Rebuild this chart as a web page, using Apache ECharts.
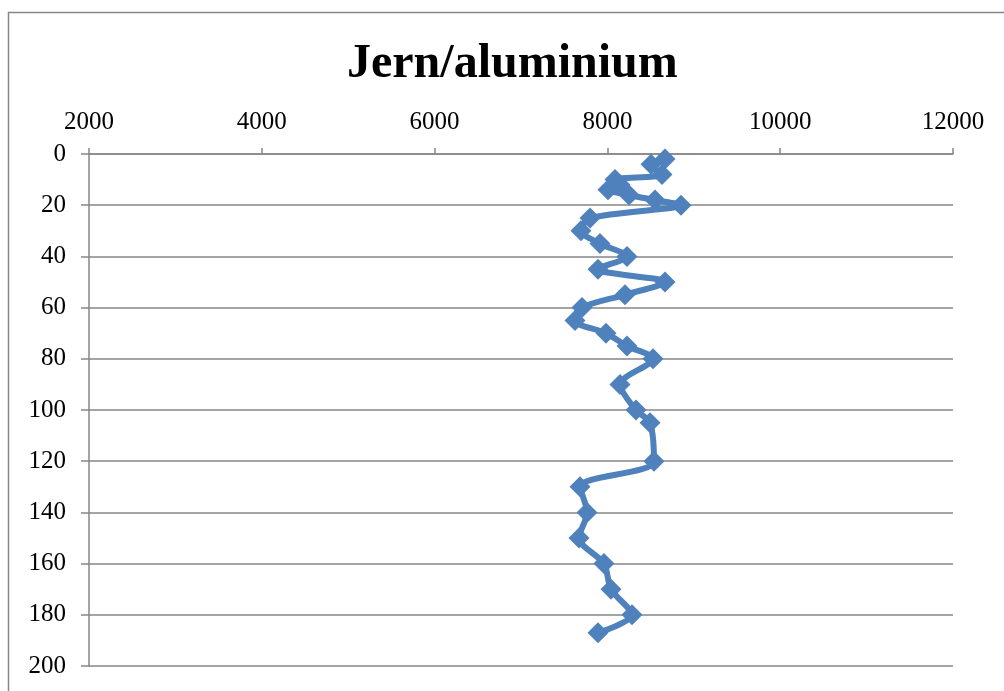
<!DOCTYPE html>
<html>
<head>
<meta charset="utf-8">
<script src="https://cdn.jsdelivr.net/npm/echarts@6/dist/echarts.min.js"></script>
<style>
html,body{margin:0;padding:0;background:#fff;}
#chart{width:1004px;height:691px;}
</style>
</head>
<body>
<div id="chart"></div>
<script>
const titleText = 'Jern/aluminium';
const depths = [2, 4, 8, 10, 12, 14, 16, 18, 20, 25, 30, 35, 40, 45, 50, 55, 60, 65, 70, 75, 80, 90, 100, 105, 120, 130, 140, 150, 160, 170, 180, 187];
const ratios = [8667, 8505, 8632, 8088, 8146, 8007, 8250, 8551, 8852, 7799, 7694, 7914, 8227, 7891, 8667, 8204, 7706, 7625, 7984, 8227, 8528, 8146, 8331, 8493, 8539, 7683, 7764, 7671, 7960, 8042, 8285, 7891];
const xTicks = [2000, 4000, 6000, 8000, 10000, 12000];
const yTicks = [0, 20, 40, 60, 80, 100, 120, 140, 160, 180, 200];

const chart = echarts.init(document.getElementById('chart'), null, {renderer: 'canvas'});
const font = '"Liberation Serif", "Times New Roman", serif';
const gray = '#868686';
chart.setOption({
  animation: false,
  backgroundColor: '#fff',
  title: {
    text: titleText,
    left: 342,
    top: 36,
    textStyle: {fontFamily: font, fontSize: 48, fontWeight: 'bold', color: '#000'}
  },
  graphic: [{
    type: 'rect',
    shape: {x: 8.5, y: 12.5, width: 1010, height: 700},
    style: {fill: 'none', stroke: gray, lineWidth: 1.5},
    silent: true
  }],
  grid: {left: 89, right: 51, top: 154, bottom: 25},
  xAxis: {
    type: 'value',
    position: 'top',
    min: xTicks[0],
    max: xTicks[xTicks.length - 1],
    interval: 2000,
    axisLine: {show: true, lineStyle: {color: gray, width: 1.5}},
    axisTick: {show: true, inside: false, length: 6, lineStyle: {color: gray, width: 1.5}},
    axisLabel: {fontFamily: font, fontSize: 25, color: '#000', margin: 19, formatter: v => String(v)},
    splitLine: {show: false}
  },
  yAxis: {
    type: 'value',
    inverse: true,
    min: yTicks[0],
    max: yTicks[yTicks.length - 1],
    interval: 20,
    axisLine: {show: true, lineStyle: {color: gray, width: 1.5}},
    axisTick: {show: true, inside: false, length: 8, lineStyle: {color: gray, width: 1.5}},
    axisLabel: {fontFamily: font, fontSize: 25, color: '#000', margin: 23, formatter: v => String(v)},
    splitLine: {show: true, lineStyle: {color: gray, width: 1.5}}
  },
  series: [{
    type: 'line',
    data: depths.map((d, i) => [ratios[i], d]),
    smooth: 0.3,
    symbol: 'diamond',
    symbolSize: 21,
    showAllSymbol: true,
    itemStyle: {color: '#4F81BD'},
    lineStyle: {color: '#4F81BD', width: 6}
  }]
});
</script>
</body>
</html>
